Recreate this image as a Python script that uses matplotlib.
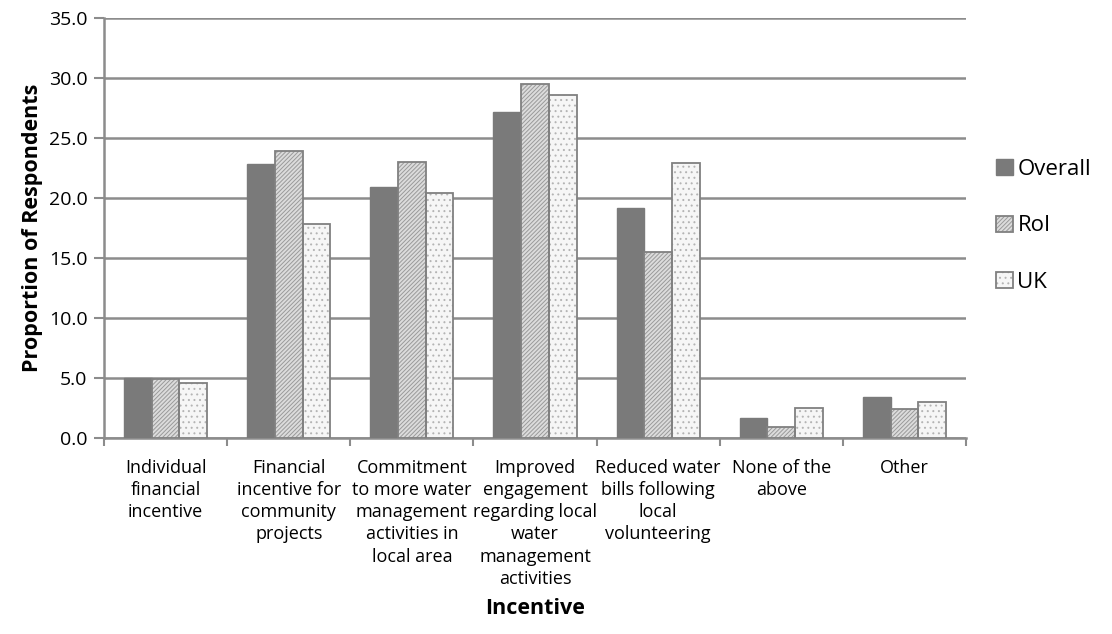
import numpy as np
import matplotlib.pyplot as plt

plt.rcParams['font.family'] = ['Open Sans', 'DejaVu Sans']
plt.rcParams['hatch.linewidth'] = 0.7

categories = ['Individual\nfinancial\nincentive',
              'Financial\nincentive for\ncommunity\nprojects',
              'Commitment\nto more water\nmanagement\nactivities in\nlocal area',
              'Improved\nengagement\nregarding local\nwater\nmanagement\nactivities',
              'Reduced water\nbills following\nlocal\nvolunteering',
              'None of the\nabove',
              'Other']
overall = [5.0, 22.8, 20.9, 27.2, 19.2, 1.7, 3.4]
roi = [4.9, 23.9, 23.0, 29.5, 15.5, 0.9, 2.4]
uk = [4.6, 17.8, 20.4, 28.6, 22.9, 2.5, 3.0]

fig = plt.figure(figsize=(11.12, 6.34), dpi=100)
ax = fig.add_axes([104 / 1112, 1 - 438 / 634, (966 - 104) / 1112, (438 - 18) / 634])

x = np.arange(len(categories))
w = 0.225
edge = '#808080'
h1 = ax.bar(x - w, overall, w, color='#7a7a7a', edgecolor='#7a7a7a', linewidth=1, zorder=3)
# hatched fills first (light hatch colour), then the darker outlines on top
r_fill = ax.bar(x, roi, w, color='#dcdcdc', edgecolor='#9a9a9a', linewidth=0, hatch='////////', zorder=3)
r_line = ax.bar(x, roi, w, fill=False, edgecolor=edge, linewidth=1.3, zorder=4)
u_fill = ax.bar(x + w, uk, w, color='#f6f6f6', edgecolor='#b4b4b4', linewidth=0, hatch='...', zorder=3)
u_line = ax.bar(x + w, uk, w, fill=False, edgecolor=edge, linewidth=1.3, zorder=4)

ax.set_xlim(-0.5, len(categories) - 0.5)
ax.set_ylim(0, 35)
ax.set_yticks(np.arange(0, 36, 5))
ax.set_yticklabels([f'{v:.1f}' for v in np.arange(0, 36, 5)], fontsize=14)
ax.set_xticks(x)
ax.set_xticklabels(categories, fontsize=13, linespacing=1.3, va='top')
ax.set_xticks(np.arange(-0.5, len(categories)), minor=True)
ax.tick_params(axis='x', which='major', length=0, pad=15)
ax.tick_params(axis='x', which='minor', length=6, width=1.5, color='#8c8c8c')
ax.tick_params(axis='y', length=7, width=1.5, color='#8c8c8c', pad=5)

ax.yaxis.grid(True, color='#8c8c8c', linewidth=1.8, zorder=0)
ax.set_axisbelow(True)
for side in ['top', 'right']:
    ax.spines[side].set_visible(False)
for side in ['left', 'bottom']:
    ax.spines[side].set_color('#8c8c8c')
    ax.spines[side].set_linewidth(1.8)

ax.set_ylabel('Proportion of Respondents', fontsize=15.5, fontweight='bold', labelpad=4)
fig.text(ax.get_position().x0 + ax.get_position().width / 2, 1 - 608 / 634, 'Incentive',
         fontsize=15.5, fontweight='bold', ha='center', va='center')

ax.legend([h1, (r_fill, r_line), (u_fill, u_line)], ['Overall', 'RoI', 'UK'],
          loc='center left', bbox_to_anchor=(1.012, 0.505), frameon=False, fontsize=16,
          handlelength=0.75, handleheight=0.75, handletextpad=0.2, labelspacing=1.6)

fig.savefig('out.png', dpi=100)
